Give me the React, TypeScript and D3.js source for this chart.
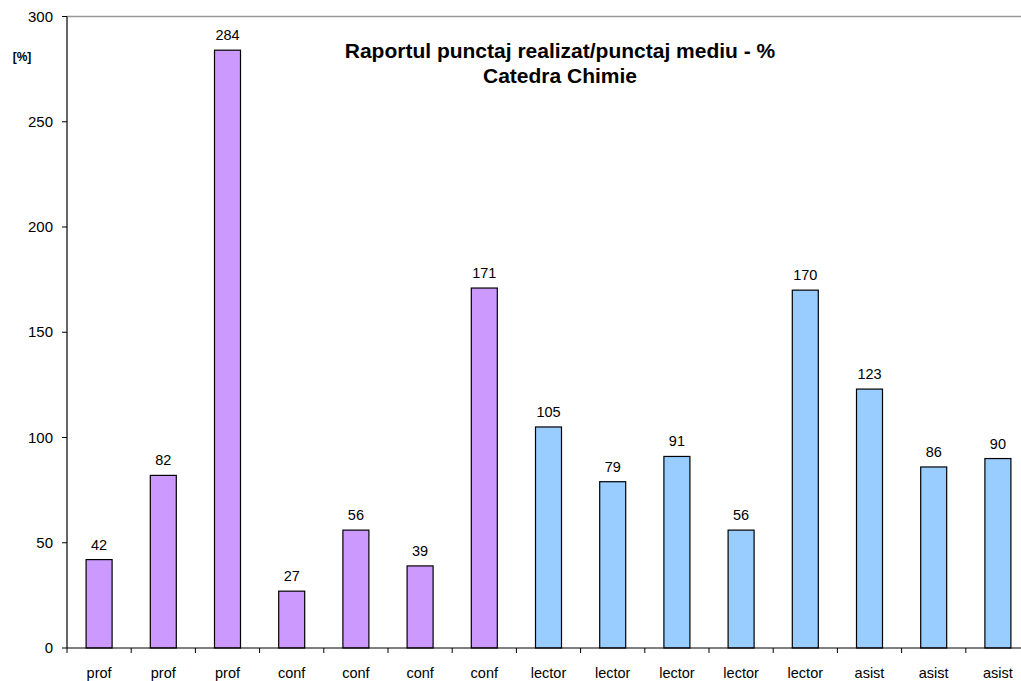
import React from "react";
import * as d3 from "d3";

const categories = ["prof","prof","prof","conf","conf","conf","conf","lector","lector","lector","lector","lector","asist","asist","asist"];
const values = [42,82,284,27,56,39,171,105,79,91,56,170,123,86,90];
const groupColors = ["#CC99FF","#CC99FF","#CC99FF","#CC99FF","#CC99FF","#CC99FF","#CC99FF","#99CCFF","#99CCFF","#99CCFF","#99CCFF","#99CCFF","#99CCFF","#99CCFF","#99CCFF"];
const yTicks = [0,50,100,150,200,250,300];
const titleLines = ["Raportul punctaj realizat/punctaj mediu - %", "Catedra Chimie"];
const yUnit = "[%]";

export default function App() {
  const W = 1021, H = 681;
  const left = 67, top = 16.5, bottom = 648;
  const band = 64.2;
  const x = d3.scaleBand<number>().domain(d3.range(values.length)).range([left, left + band * values.length]).paddingInner(0).paddingOuter(0);
  const y = d3.scaleLinear().domain([0, 300]).range([bottom, top]);
  const barW = 26;
  const font = "'Liberation Sans', Arial, sans-serif";
  return (
    <svg width={W} height={H} style={{ position: "absolute", left: 0, top: 0, fontFamily: font }}>
      <rect x={0} y={0} width={W} height={H} fill="#fff" />
      <line x1={left} x2={W} y1={y(300)} y2={y(300)} stroke="#999" strokeWidth={1.5} />
      {values.map((v, i) => {
        const cx = (x(i) as number) + band / 2;
        return (
          <g key={i}>
            <rect x={cx - barW / 2} y={y(v)} width={barW} height={bottom - y(v)} fill={groupColors[i]} stroke="#000" strokeWidth={1.2} />
            <text x={cx} y={y(v) - 10} textAnchor="middle" fontSize={14.5}>{v}</text>
            <text x={cx} y={678} textAnchor="middle" fontSize={14.5}>{categories[i]}</text>
          </g>
        );
      })}
      <line x1={left} x2={W} y1={bottom} y2={bottom} stroke="#000" strokeWidth={1.2} />
      <line x1={left} x2={left} y1={top} y2={bottom} stroke="#000" strokeWidth={1.2} />
      {d3.range(values.length + 1).map(i => {
        const xx = left + band * i;
        return <line key={i} x1={xx} x2={xx} y1={bottom} y2={bottom + 5} stroke="#000" strokeWidth={1} />;
      })}
      {yTicks.map(t => (
        <g key={t}>
          <line x1={left - 5} x2={left} y1={y(t)} y2={y(t)} stroke="#000" strokeWidth={1} />
          <text x={53} y={y(t) + 5} textAnchor="end" fontSize={15}>{t}</text>
        </g>
      ))}
      <text x={22} y={61} textAnchor="middle" fontSize={12} fontWeight="bold">{yUnit}</text>
      {titleLines.map((l, i) => (
        <text key={i} x={560} y={58 + i * 25} textAnchor="middle" fontSize={21} fontWeight="bold">{l}</text>
      ))}
    </svg>
  );
}
